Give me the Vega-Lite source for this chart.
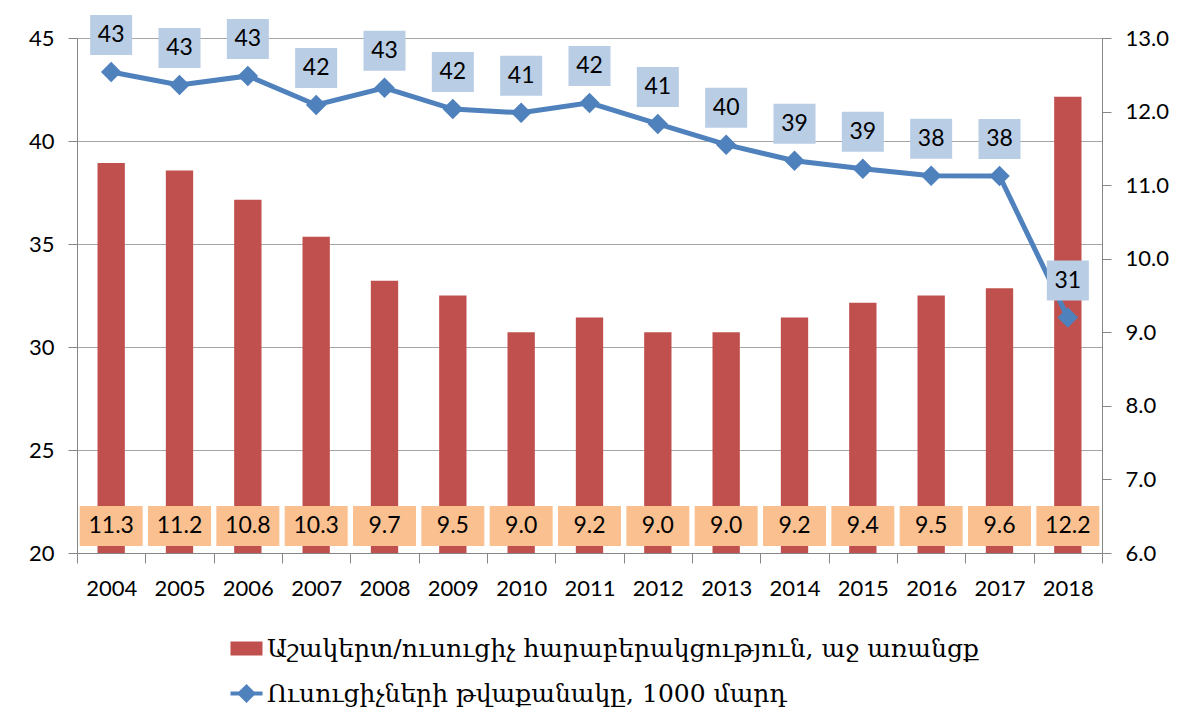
{
  "$schema": "https://vega.github.io/schema/vega-lite/v6.json",
  "width": 1025,
  "height": 515,
  "autosize": {"type": "none"},
  "padding": {"left": 77, "top": 38, "right": 89, "bottom": 173},
  "background": "white",
  "config": {
    "view": {"stroke": null},
    "font": "Lato",
    "axis": {"labelFont": "Lato", "labelFontSize": 22, "labelColor": "#000000", "domainColor": "#868686", "tickColor": "#868686", "gridColor": "#A6A6A6", "title": null}
  },
  "data": {
    "values": [
      {"year": "2004", "ratio": 11.3, "teachers": 43.35},
      {"year": "2005", "ratio": 11.2, "teachers": 42.72},
      {"year": "2006", "ratio": 10.8, "teachers": 43.16},
      {"year": "2007", "ratio": 10.3, "teachers": 41.75},
      {"year": "2008", "ratio": 9.7, "teachers": 42.58},
      {"year": "2009", "ratio": 9.5, "teachers": 41.55},
      {"year": "2010", "ratio": 9.0, "teachers": 41.37},
      {"year": "2011", "ratio": 9.2, "teachers": 41.85},
      {"year": "2012", "ratio": 9.0, "teachers": 40.83},
      {"year": "2013", "ratio": 9.0, "teachers": 39.82},
      {"year": "2014", "ratio": 9.2, "teachers": 39.04},
      {"year": "2015", "ratio": 9.4, "teachers": 38.65},
      {"year": "2016", "ratio": 9.5, "teachers": 38.31},
      {"year": "2017", "ratio": 9.6, "teachers": 38.3},
      {"year": "2018", "ratio": 12.2, "teachers": 31.43}
    ]
  },
  "encoding": {
    "x": {
      "field": "year", "type": "ordinal",
      "scale": {"paddingInner": 0, "paddingOuter": 0},
      "axis": {"labelAngle": 0, "tickBand": "extent", "tickSize": 10, "labelPadding": 15, "grid": false}
    }
  },
  "layer": [
    {
      "encoding": {
        "y": {
          "type": "quantitative",
          "scale": {"domain": [6, 13], "nice": false, "zero": false},
          "axis": {"orient": "right", "values": [6, 7, 8, 9, 10, 11, 12, 13], "format": ".1f", "grid": false, "tickSize": 9, "labelPadding": 14}
        }
      },
      "layer": [
        {
          "mark": {"type": "bar", "width": {"band": 0.4}},
          "encoding": {
            "y": {"field": "ratio", "type": "quantitative"},
            "y2": {"datum": 6},
            "color": {
              "datum": "Աշակերտ/ուսուցիչ հարաբերակցություն, աջ առանցք",
              "scale": {
                "domain": ["Աշակերտ/ուսուցիչ հարաբերակցություն, աջ առանցք", "Ուսուցիչների թվաքանակը, 1000 մարդ"],
                "range": ["#C0504D", "#4F81BD"]
              },
              "legend": {
                "orient": "none", "legendX": 157, "legendY": 598, "direction": "vertical", "title": null,
                "labelFont": "DejaVu Serif", "labelFontSize": 25, "labelColor": "#000000", "labelLimit": 2000,
                "labelOffset": 8, "rowPadding": 16, "symbolSize": 1024, "symbolType": "M-1,-0.44H1V0.44H-1Z",
                "encode": {
                  "symbols": {
                    "update": {
                      "shape": {"signal": "datum.index === 0 ? 'M-1,-0.44H1V0.44H-1Z' : 'M-1,0H1M-0.42,0L0,-0.42L0.42,0L0,0.42Z'"},
                      "fill": {"signal": "datum.index === 0 ? '#C0504D' : '#4F81BD'"},
                      "stroke": {"signal": "datum.index === 0 ? '#C0504D' : '#4F81BD'"},
                      "strokeWidth": {"signal": "datum.index === 0 ? 0 : 4"},
                      "opacity": {"value": 1}
                    }
                  }
                }
              }
            }
          }
        },
        {
          "mark": {"type": "point", "shape": "M-1,-0.635H1V0.635H-1Z", "size": 3969, "filled": true, "color": "#FAC090", "opacity": 1, "yOffset": -27},
          "encoding": {"y": {"datum": 6}}
        },
        {
          "mark": {"type": "text", "font": "Lato", "fontSize": 23, "color": "#000000", "baseline": "middle", "yOffset": -27},
          "encoding": {"y": {"datum": 6}, "text": {"field": "ratio", "type": "quantitative", "format": ".1f"}}
        }
      ]
    },
    {
      "encoding": {
        "y": {
          "type": "quantitative",
          "scale": {"domain": [20, 45], "nice": false, "zero": false},
          "axis": {"orient": "left", "values": [20, 25, 30, 35, 40, 45], "format": "d", "grid": true, "tickSize": 9, "labelPadding": 14}
        }
      },
      "layer": [
        {
          "mark": {"type": "line", "strokeWidth": 5},
          "encoding": {
            "y": {"field": "teachers", "type": "quantitative"},
            "color": {"datum": "Ուսուցիչների թվաքանակը, 1000 մարդ"}
          }
        },
        {
          "mark": {"type": "point", "shape": "diamond", "size": 420, "filled": true, "color": "#4F81BD", "opacity": 1},
          "encoding": {"y": {"field": "teachers", "type": "quantitative"}}
        },
        {
          "mark": {"type": "point", "shape": "M-1,-0.952H1V0.952H-1Z", "size": 1764, "filled": true, "color": "#B9CDE5", "opacity": 1, "yOffset": -37},
          "encoding": {"y": {"field": "teachers", "type": "quantitative"}}
        },
        {
          "mark": {"type": "text", "font": "Lato", "fontSize": 23, "color": "#000000", "baseline": "middle", "yOffset": -37},
          "encoding": {"y": {"field": "teachers", "type": "quantitative"}, "text": {"field": "teachers", "type": "quantitative", "format": ".0f"}}
        }
      ]
    }
  ],
  "resolve": {"scale": {"y": "independent"}}
}
